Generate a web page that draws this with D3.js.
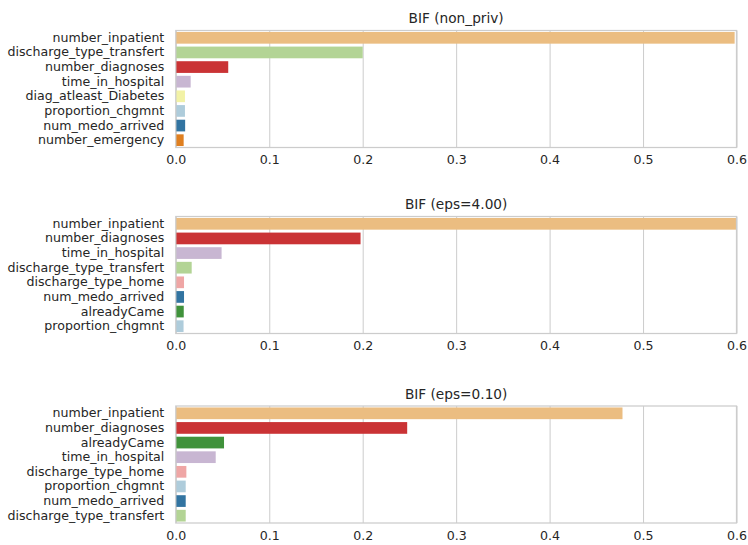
<!DOCTYPE html>
<html>
<head>
<meta charset="utf-8">
<script src="https://cdn.jsdelivr.net/npm/d3@7"></script>
<style>
  html, body { margin: 0; padding: 0; background: #fff; }
  svg { display: block; }
  text { font-family: "DejaVu Sans", sans-serif; fill: #262626; }
</style>
</head>
<body>
<div id="chart"></div>
<script>
// Feature importance (BIF) for three privacy settings
const titles = ["BIF (non_priv)", "BIF (eps=4.00)", "BIF (eps=0.10)"];

const featuresNonPriv = ["number_inpatient", "discharge_type_transfert", "number_diagnoses", "time_in_hospital",
  "diag_atleast_Diabetes", "proportion_chgmnt", "num_medo_arrived", "number_emergency"];
const valuesNonPriv = [0.598, 0.200, 0.0561, 0.0159, 0.0098, 0.0098, 0.0100, 0.0084];

const featuresEps4 = ["number_inpatient", "number_diagnoses", "time_in_hospital", "discharge_type_transfert",
  "discharge_type_home", "num_medo_arrived", "alreadyCame", "proportion_chgmnt"];
const valuesEps4 = [0.605, 0.1977, 0.049, 0.017, 0.0088, 0.0088, 0.0085, 0.0083];

const featuresEps01 = ["number_inpatient", "number_diagnoses", "alreadyCame", "time_in_hospital",
  "discharge_type_home", "proportion_chgmnt", "num_medo_arrived", "discharge_type_transfert"];
const valuesEps01 = [0.478, 0.2476, 0.0516, 0.0427, 0.0113, 0.0106, 0.0106, 0.0106];

const xTicks = [0.0, 0.1, 0.2, 0.3, 0.4, 0.5, 0.6];

// Fixed colour per feature (Paired palette)
const featureColors = {
  proportion_chgmnt: "#a6cee3",
  num_medo_arrived: "#1f78b4",
  discharge_type_transfert: "#b2df8a",
  alreadyCame: "#33a02c",
  discharge_type_home: "#fb9a99",
  number_diagnoses: "#e31a1c",
  number_inpatient: "#fdbf6f",
  number_emergency: "#ff7f00",
  time_in_hospital: "#cab2d6",
  diag_atleast_Diabetes: "#ffff99"
};

// bars are drawn at 75% saturation
function barColor(name) {
  const c = d3.hsl(featureColors[name]);
  c.s *= 0.75;
  return c.formatHex();
}

const panels = [
  { title: titles[0], features: featuresNonPriv, values: valuesNonPriv },
  { title: titles[1], features: featuresEps4, values: valuesEps4 },
  { title: titles[2], features: featuresEps01, values: valuesEps01 }
];

const W = 748, H = 545;
const left = 175.8, right = 736.5;
const tops = [30.5, 216.5, 406];
const plotH = 117;
const gridColor = "#cccccc";

const svg = d3.select("#chart").append("svg")
  .attr("width", W).attr("height", H);

const x = d3.scaleLinear().domain([0, 0.6]).range([left, right]);

panels.forEach((p, i) => {
  const top = tops[i];
  const y = d3.scaleBand().domain(p.features).range([top, top + plotH]).paddingInner(0.2).paddingOuter(0.1);
  const g = svg.append("g");

  const clipId = "clip" + i;
  g.append("clipPath").attr("id", clipId)
    .append("rect").attr("x", left).attr("y", top).attr("width", right - left).attr("height", plotH);

  // vertical grid
  const xAxis = d3.axisBottom(x).tickValues(xTicks).tickFormat(d3.format(".1f")).tickSize(-plotH).tickPadding(8);
  const ax = g.append("g").attr("transform", `translate(0,${top + plotH})`).call(xAxis);
  ax.select(".domain").remove();
  ax.selectAll(".tick line").attr("stroke", gridColor).attr("stroke-width", 1);
  ax.selectAll(".tick text").attr("font-size", "12.6px").attr("fill", "#262626")
    .attr("font-family", "DejaVu Sans, sans-serif");

  // bars
  g.append("g").attr("clip-path", `url(#${clipId})`)
    .selectAll("rect").data(p.features).join("rect")
    .attr("x", x(0))
    .attr("y", d => y(d))
    .attr("width", (d, k) => x(p.values[k]) - x(0))
    .attr("height", y.bandwidth())
    .attr("fill", d => barColor(d));

  // frame
  g.append("rect").attr("x", left).attr("y", top).attr("width", right - left).attr("height", plotH)
    .attr("fill", "none").attr("stroke", gridColor).attr("stroke-width", 1.25);

  // category labels
  const yAxis = d3.axisLeft(y).tickSize(0).tickPadding(11.5);
  const ay = g.append("g").attr("transform", `translate(${left},0)`).call(yAxis);
  ay.select(".domain").remove();
  ay.selectAll(".tick text").attr("font-size", "12.6px").attr("fill", "#262626")
    .attr("font-family", "DejaVu Sans, sans-serif");

  // title
  g.append("text").attr("x", (left + right) / 2).attr("y", top - 7.5)
    .attr("text-anchor", "middle").attr("font-size", "13.7px").text(p.title);
});
</script>
</body>
</html>
